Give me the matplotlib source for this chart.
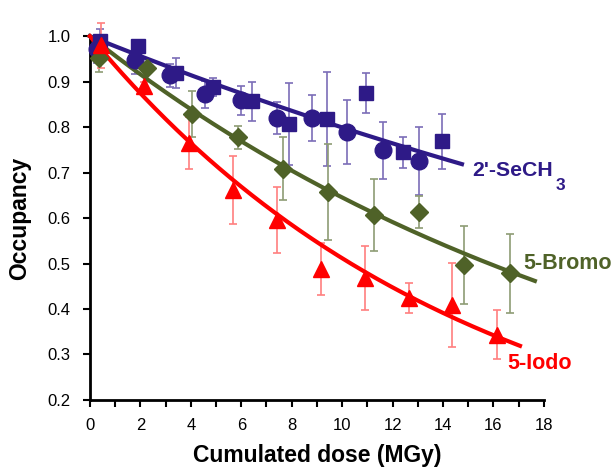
import numpy as np
import matplotlib
matplotlib.use("Agg")
import matplotlib.pyplot as plt
from matplotlib.ticker import MultipleLocator, FormatStrFormatter

plt.rcParams['font.family'] = ['Liberation Sans', 'DejaVu Sans']

# 2'-SeCH3, two data sets (circles / squares)
se_circ_x = [0.28, 1.78, 3.17, 4.56, 5.99, 7.41, 8.80, 10.19, 11.62, 13.05]
se_circ_y = [0.971, 0.947, 0.914, 0.872, 0.859, 0.820, 0.820, 0.790, 0.749, 0.725]
se_circ_e = [0.030, 0.030, 0.025, 0.030, 0.032, 0.035, 0.050, 0.070, 0.062, 0.075]
se_sq_x = [0.40, 1.90, 3.41, 4.88, 6.42, 7.90, 9.40, 10.94, 12.41, 13.96]
se_sq_y = [0.990, 0.978, 0.918, 0.888, 0.857, 0.806, 0.818, 0.875, 0.745, 0.769]
se_sq_e = [0.025, 0.005, 0.033, 0.020, 0.043, 0.090, 0.103, 0.045, 0.034, 0.060]

# 5-Bromo
br_x = [0.36, 2.26, 4.04, 5.87, 7.65, 9.44, 11.26, 13.05, 14.83, 16.65]
br_y = [0.952, 0.930, 0.829, 0.778, 0.709, 0.657, 0.607, 0.613, 0.497, 0.479]
br_e = [0.030, 0.010, 0.050, 0.025, 0.070, 0.105, 0.080, 0.035, 0.085, 0.087]

# 5-Iodo
io_x = [0.45, 2.15, 3.94, 5.67, 7.41, 9.16, 10.90, 12.65, 14.36, 16.14]
io_y = [0.980, 0.890, 0.765, 0.662, 0.596, 0.488, 0.468, 0.424, 0.409, 0.343]
io_e = [0.050, 0.010, 0.057, 0.075, 0.073, 0.057, 0.070, 0.033, 0.092, 0.054]

# exponential fits y = exp(-k x)
k_se, xmax_se = 0.0224, 14.75
k_br, xmax_br = 0.0438, 17.64
k_io, xmax_io = 0.0670, 17.05

c_se, c_se_e = '#2E1A87', '#7B6DB8'
c_br, c_br_e = '#4F6228', '#8E9C74'
c_io, c_io_e = '#FF0000', '#FF7F7F'

fig = plt.figure(figsize=(6.16, 4.70), dpi=100)
ax = fig.add_axes([0.146, 0.149, 0.737, 0.774])

def series(x, y, e, marker, ms, col, ecol):
    ax.errorbar(x, y, yerr=e, fmt='none', ecolor=ecol, elinewidth=1.2,
                capsize=3, capthick=1.2, clip_on=False, zorder=2)
    ax.plot(x, y, linestyle='none', marker=marker, ms=ms, color=col,
            clip_on=False, zorder=4)

def fit(k, xmax, col):
    xx = np.linspace(0, xmax, 200)
    ax.plot(xx, np.exp(-k * xx), color=col, lw=3, zorder=3, clip_on=False)

fit(k_se, xmax_se, c_se)
fit(k_br, xmax_br, c_br)
fit(k_io, xmax_io, c_io)

series(se_circ_x, se_circ_y, se_circ_e, 'o', 12, c_se, c_se_e)
series(se_sq_x, se_sq_y, se_sq_e, 's', 10, c_se, c_se_e)
series(br_x, br_y, br_e, 'D', 9, c_br, c_br_e)
series(io_x, io_y, io_e, '^', 11, c_io, c_io_e)

# series labels (subscript 3 drawn as its own text, like the original)
ax.text(15.15, 0.692, "2'-SeCH", color=c_se, fontsize=15.3,
        fontweight='bold', va='baseline', ha='left', clip_on=False)
ax.text(18.45, 0.688, "3", color=c_se, fontsize=12.5,
        fontweight='bold', va='top', ha='left', clip_on=False)
ax.text(17.2, 0.50, "5-Bromo", color=c_br, fontsize=15.5,
        fontweight='bold', va='center', ha='left')
ax.text(16.53, 0.281, "5-Iodo", color=c_io, fontsize=15.5,
        fontweight='bold', va='center', ha='left')

ax.set_xlim(0, 18)
ax.set_ylim(0.2, 1.0)
ax.xaxis.set_major_locator(MultipleLocator(2))
ax.xaxis.set_minor_locator(MultipleLocator(1))
ax.yaxis.set_major_locator(MultipleLocator(0.1))
ax.yaxis.set_major_formatter(FormatStrFormatter('%.1f'))
ax.tick_params(which='both', direction='out', width=1.5, length=5,
               labelsize=12, pad=8)
ax.tick_params(axis='y', pad=9)

for s in ['top', 'right']:
    ax.spines[s].set_visible(False)
for s in ['left', 'bottom']:
    ax.spines[s].set_linewidth(2)

ax.set_xlabel('Cumulated dose (MGy)', fontsize=16.5, fontweight='bold', labelpad=8)
ax.set_ylabel('Occupancy', fontsize=16.5, fontweight='bold', labelpad=12)

fig.savefig('out.png', dpi=100)
